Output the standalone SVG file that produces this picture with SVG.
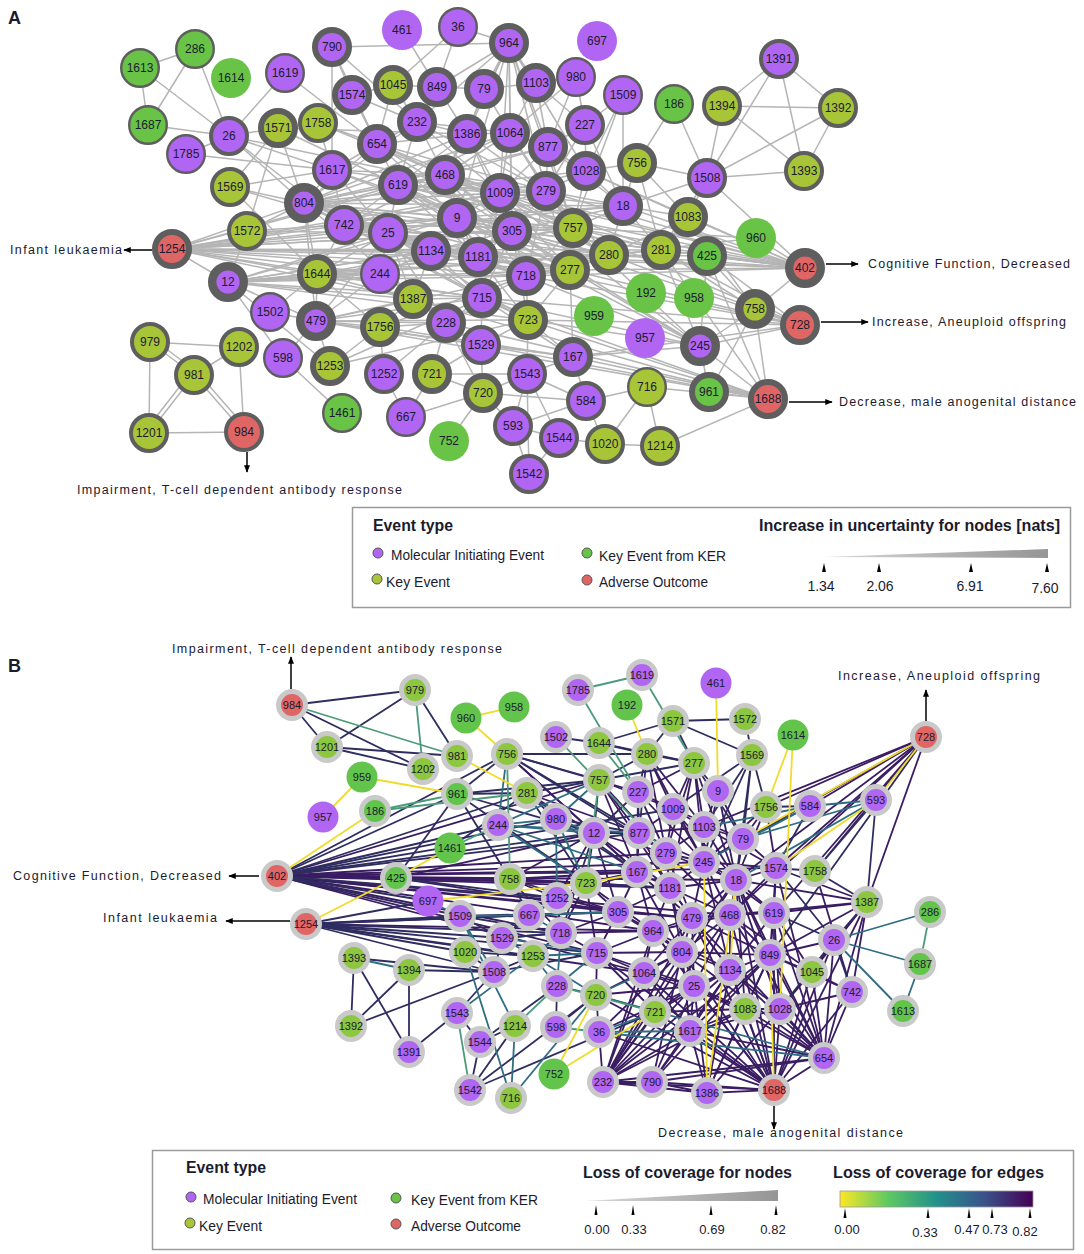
<svg xmlns="http://www.w3.org/2000/svg" width="1084" height="1254" viewBox="0 0 1084 1254">
<style>
text{font-family:"Liberation Sans",Arial,sans-serif;fill:#1b1b2e}
.nodes text{text-anchor:middle;font-size:12px}
#B text{font-size:11px}
#A circle{stroke:#5e5e5e}
#A .s0 circle{stroke:none}
.s2 circle{stroke-width:2.4}
.s4 circle{stroke-width:4}
.s6 circle{stroke-width:6}
.s8 circle{stroke-width:8.4}
.m circle{fill:#b066f2}
.k circle{fill:#a8c538}
.g circle{fill:#68c346}
.r circle{fill:#e06666}
#B .k circle{fill:#8dc63f}
#B .g circle{fill:#62c44b}
#B circle{stroke:#c9c9c9;stroke-width:5}
#B .s0 circle{stroke:none}
.ea path{stroke:#b5b5b5;stroke-width:1.5;fill:none}
.eb path{stroke-width:1.8;fill:none}
.ey path{stroke:#f0dc2a}
.eg path{stroke:#4b9b7b}
.et path{stroke:#2e6d82}
.en path{stroke:#2f2d60}
.ep path{stroke:#3a1c62}
.arr{stroke:#000;stroke-width:1.5;fill:none;marker-end:url(#ah)}
.ann{font-size:12.5px}
.lt{font-weight:bold;font-size:16px}
.li{font-size:14px}
.dot{stroke:#555;stroke-width:1}
.tick{fill:#000}
</style>
<defs>
<marker id="ah" viewBox="0 0 10 10" refX="9" refY="5" markerWidth="5" markerHeight="5" orient="auto"><path d="M0 1L10 5L0 9z" fill="#000"/></marker>
<linearGradient id="wedge" x1="0" x2="1" y1="0" y2="0"><stop offset="0" stop-color="#d8d8d8"/><stop offset="1" stop-color="#959595"/></linearGradient>
<linearGradient id="vir" x1="0" x2="1" y1="0" y2="0"><stop offset="0" stop-color="#fde725"/><stop offset="0.25" stop-color="#5ec962"/><stop offset="0.5" stop-color="#21918c"/><stop offset="0.75" stop-color="#3b528b"/><stop offset="1" stop-color="#440154"/></linearGradient>
</defs>
<rect width="1084" height="1254" fill="#fff"/>
<text x="8" y="24" style="font-weight:bold;font-size:18px">A</text>
<text x="8" y="672" style="font-weight:bold;font-size:18px">B</text>

<g id="edgesA" class="ea">
<path d="M140 68L195 49"/><path d="M140 68L148 125"/><path d="M195 49L148 125"/><path d="M195 49L229 136"/><path d="M140 68L229 136"/><path d="M148 125L229 136"/><path d="M186 154L229 136"/><path d="M186 154L332 170"/><path d="M285 73L229 136"/><path d="M285 73L377 144"/><path d="M229 136L278 128"/><path d="M229 136L332 170"/><path d="M229 136L304 203"/><path d="M229 136L344 225"/><path d="M229 136L500 193"/><path d="M332 47L352 95"/><path d="M332 47L377 144"/><path d="M332 47L332 170"/><path d="M332 47L417 122"/><path d="M332 47L509 43"/><path d="M278 128L230 187"/><path d="M278 128L247 231"/><path d="M278 128L318 123"/><path d="M278 128L304 203"/><path d="M278 128L398 185"/><path d="M278 128L467 134"/><path d="M318 123L352 95"/><path d="M318 123L377 144"/><path d="M318 123L445 175"/><path d="M318 123L332 170"/><path d="M230 187L304 203"/><path d="M230 187L317 274"/><path d="M230 187L388 233"/><path d="M230 187L332 170"/><path d="M247 231L304 203"/><path d="M247 231L344 225"/><path d="M247 231L228 282"/><path d="M247 231L388 233"/>
<path d="M172 249L304 203"/><path d="M172 249L228 282"/><path d="M172 249L344 225"/><path d="M172 249L388 233"/><path d="M172 249L431 251"/><path d="M172 249L478 257"/><path d="M172 249L457 218"/><path d="M172 249L512 231"/><path d="M172 249L526 276"/><path d="M172 249L317 274"/><path d="M172 249L398 185"/><path d="M172 249L445 175"/><path d="M172 249L500 193"/><path d="M172 249L546 191"/><path d="M172 249L570 270"/><path d="M172 249L573 228"/><path d="M172 249L413 299"/><path d="M172 249L380 274"/><path d="M172 249L482 298"/><path d="M172 249L609 255"/><path d="M172 249L623 206"/><path d="M172 249L661 250"/>
<path d="M228 282L317 274"/><path d="M228 282L316 321"/><path d="M228 282L283 358"/><path d="M228 282L330 366"/><path d="M228 282L431 251"/><path d="M228 282L388 233"/><path d="M228 282L457 218"/><path d="M228 282L478 257"/><path d="M228 282L482 298"/><path d="M228 282L413 299"/><path d="M228 282L526 276"/><path d="M228 282L609 255"/><path d="M228 282L528 320"/><path d="M228 282L380 274"/><path d="M270 312L316 321"/><path d="M270 312L317 274"/><path d="M283 358L342 413"/><path d="M283 358L316 321"/>
<path d="M150 342L194 375"/><path d="M153 339L197 372"/><path d="M150 342L239 347"/><path d="M150 342L149 433"/><path d="M194 375L239 347"/><path d="M194 375L149 433"/><path d="M191 372L146 430"/><path d="M194 375L244 432"/><path d="M197 372L247 429"/><path d="M149 433L244 432"/><path d="M239 347L244 432"/>
<path d="M402 30L437 87"/><path d="M458 27L437 87"/><path d="M458 27L509 43"/><path d="M458 27L393 85"/><path d="M509 43L437 87"/><path d="M509 43L484 89"/><path d="M509 43L536 83"/><path d="M509 43L510 133"/><path d="M509 43L467 134"/><path d="M509 43L548 147"/><path d="M509 43L500 193"/><path d="M509 43L546 191"/><path d="M509 43L417 122"/><path d="M509 43L445 175"/><path d="M509 43L512 231"/><path d="M509 43L586 171"/><path d="M509 43L457 218"/><path d="M509 43L573 228"/>
<path d="M576 77L536 83"/><path d="M576 77L585 125"/><path d="M576 77L548 147"/><path d="M576 77L510 133"/><path d="M623 95L585 125"/><path d="M623 95L573 228"/><path d="M623 95L623 206"/><path d="M623 95L586 171"/><path d="M674 104L637 163"/><path d="M674 104L707 178"/>
<path d="M779 59L722 106"/><path d="M779 59L838 108"/><path d="M779 59L804 171"/><path d="M779 59L707 178"/><path d="M722 106L838 108"/><path d="M722 106L804 171"/><path d="M838 108L804 171"/><path d="M838 108L707 178"/><path d="M804 171L707 178"/><path d="M722 106L707 178"/><path d="M707 178L805 268"/><path d="M707 178L637 163"/><path d="M707 178L623 206"/><path d="M707 178L688 217"/><path d="M707 178L661 250"/><path d="M756 238L805 268"/><path d="M756 238L573 228"/><path d="M756 238L609 255"/>
<path d="M805 268L707 256"/><path d="M805 268L755 309"/><path d="M805 268L661 250"/><path d="M805 268L609 255"/><path d="M805 268L688 217"/><path d="M805 268L623 206"/><path d="M805 268L573 228"/><path d="M805 268L570 270"/><path d="M805 268L512 231"/><path d="M805 268L500 193"/><path d="M805 268L546 191"/><path d="M805 268L586 171"/><path d="M805 268L526 276"/><path d="M805 268L478 257"/><path d="M805 268L431 251"/><path d="M805 268L457 218"/><path d="M805 268L445 175"/><path d="M805 268L398 185"/>
<path d="M800 325L755 309"/><path d="M800 325L700 346"/><path d="M800 325L707 256"/><path d="M800 325L661 250"/><path d="M800 325L609 255"/><path d="M800 325L570 270"/><path d="M800 325L573 228"/><path d="M800 325L573 357"/><path d="M800 325L528 320"/><path d="M800 325L526 276"/><path d="M800 325L482 298"/><path d="M800 325L478 257"/><path d="M800 325L512 231"/>
<path d="M768 399L709 392"/><path d="M768 399L700 346"/><path d="M768 399L755 309"/><path d="M768 399L707 256"/><path d="M768 399L661 250"/><path d="M768 399L573 357"/><path d="M768 399L528 320"/><path d="M768 399L482 298"/><path d="M768 399L446 323"/><path d="M768 399L481 345"/><path d="M768 399L316 321"/><path d="M768 399L413 299"/><path d="M768 399L660 446"/><path d="M768 399L647 387"/>
<path d="M755 309L707 256"/><path d="M755 309L700 346"/><path d="M755 309L661 250"/><path d="M755 309L709 392"/><path d="M755 309L688 217"/><path d="M700 346L709 392"/><path d="M700 346L707 256"/><path d="M700 346L661 250"/><path d="M700 346L573 357"/><path d="M700 346L528 320"/><path d="M700 346L482 298"/><path d="M700 346L526 276"/><path d="M700 346L570 270"/><path d="M700 346L573 228"/><path d="M700 346L500 193"/><path d="M700 346L512 231"/><path d="M700 346L457 218"/>
<path d="M647 387L605 444"/><path d="M647 387L660 446"/><path d="M647 387L586 401"/><path d="M605 444L660 446"/><path d="M605 444L586 401"/><path d="M605 444L559 438"/><path d="M559 438L529 474"/><path d="M559 438L513 426"/><path d="M527 374L529 474"/><path d="M513 426L529 474"/><path d="M527 374L513 426"/><path d="M527 374L559 438"/><path d="M527 374L586 401"/><path d="M527 374L483 393"/><path d="M527 374L432 374"/><path d="M527 374L573 357"/><path d="M527 374L528 320"/><path d="M483 393L449 441"/><path d="M483 393L513 426"/><path d="M483 393L432 374"/><path d="M483 393L481 345"/><path d="M483 393L446 323"/><path d="M483 393L586 401"/><path d="M406 417L432 374"/><path d="M406 417L384 374"/><path d="M406 417L483 393"/><path d="M586 401L573 357"/><path d="M586 401L513 426"/>
<path d="M304 203L344 225"/><path d="M304 203L398 185"/><path d="M304 203L377 144"/><path d="M304 203L332 170"/><path d="M304 203L388 233"/><path d="M304 203L317 274"/><path d="M304 203L457 218"/><path d="M304 203L445 175"/><path d="M304 203L500 193"/><path d="M304 203L512 231"/><path d="M304 203L546 191"/><path d="M304 203L573 228"/><path d="M304 203L623 206"/><path d="M304 203L431 251"/><path d="M304 203L478 257"/><path d="M304 203L526 276"/><path d="M304 203L316 321"/><path d="M304 203L417 122"/><path d="M304 203L467 134"/><path d="M304 203L510 133"/><path d="M304 203L548 147"/><path d="M304 203L586 171"/><path d="M304 203L570 270"/><path d="M304 203L609 255"/><path d="M304 203L482 298"/><path d="M304 203L446 323"/><path d="M304 203L528 320"/>
<path d="M344 225L388 233"/><path d="M344 225L398 185"/><path d="M344 225L317 274"/><path d="M344 225L431 251"/><path d="M344 225L457 218"/><path d="M344 225L445 175"/><path d="M344 225L500 193"/><path d="M344 225L623 206"/><path d="M344 225L573 228"/><path d="M344 225L609 255"/><path d="M344 225L526 276"/><path d="M344 225L478 257"/>
<path d="M388 233L398 185"/><path d="M388 233L457 218"/><path d="M388 233L431 251"/><path d="M388 233L380 274"/><path d="M388 233L317 274"/><path d="M388 233L413 299"/><path d="M388 233L316 321"/><path d="M388 233L478 257"/><path d="M388 233L512 231"/><path d="M388 233L526 276"/><path d="M388 233L570 270"/><path d="M388 233L482 298"/><path d="M388 233L446 323"/><path d="M388 233L528 320"/>
<path d="M398 185L445 175"/><path d="M398 185L377 144"/><path d="M398 185L417 122"/><path d="M398 185L457 218"/><path d="M398 185L500 193"/><path d="M398 185L467 134"/><path d="M398 185L510 133"/><path d="M398 185L546 191"/><path d="M398 185L512 231"/><path d="M398 185L573 228"/><path d="M398 185L526 276"/><path d="M398 185L570 270"/><path d="M398 185L478 257"/>
<path d="M445 175L467 134"/><path d="M445 175L457 218"/><path d="M445 175L500 193"/><path d="M445 175L510 133"/><path d="M445 175L546 191"/><path d="M445 175L548 147"/><path d="M445 175L512 231"/><path d="M445 175L417 122"/><path d="M445 175L573 228"/><path d="M445 175L526 276"/><path d="M445 175L570 270"/><path d="M445 175L609 255"/><path d="M445 175L478 257"/>
<path d="M457 218L500 193"/><path d="M457 218L512 231"/><path d="M457 218L431 251"/><path d="M457 218L478 257"/><path d="M457 218L546 191"/><path d="M457 218L526 276"/><path d="M457 218L573 228"/><path d="M457 218L570 270"/><path d="M457 218L609 255"/><path d="M457 218L482 298"/>
<path d="M500 193L512 231"/><path d="M500 193L546 191"/><path d="M500 193L510 133"/><path d="M500 193L548 147"/><path d="M500 193L467 134"/><path d="M500 193L573 228"/><path d="M500 193L623 206"/><path d="M500 193L586 171"/><path d="M500 193L478 257"/><path d="M500 193L526 276"/><path d="M500 193L570 270"/><path d="M500 193L609 255"/><path d="M500 193L661 250"/><path d="M500 193L482 298"/>
<path d="M512 231L546 191"/><path d="M512 231L573 228"/><path d="M512 231L526 276"/><path d="M512 231L478 257"/><path d="M512 231L431 251"/><path d="M512 231L570 270"/><path d="M512 231L623 206"/><path d="M512 231L609 255"/><path d="M512 231L661 250"/><path d="M512 231L482 298"/><path d="M512 231L528 320"/>
<path d="M546 191L548 147"/><path d="M546 191L586 171"/><path d="M546 191L573 228"/><path d="M546 191L623 206"/><path d="M546 191L585 125"/><path d="M546 191L510 133"/><path d="M546 191L570 270"/><path d="M546 191L609 255"/><path d="M546 191L526 276"/>
<path d="M573 228L623 206"/><path d="M573 228L586 171"/><path d="M573 228L570 270"/><path d="M573 228L609 255"/><path d="M573 228L661 250"/><path d="M573 228L526 276"/>
<path d="M623 206L586 171"/><path d="M623 206L688 217"/><path d="M623 206L609 255"/><path d="M623 206L661 250"/><path d="M623 206L637 163"/><path d="M623 206L585 125"/>
<path d="M586 171L548 147"/><path d="M586 171L585 125"/><path d="M586 171L637 163"/><path d="M586 171L688 217"/><path d="M548 147L585 125"/><path d="M548 147L510 133"/><path d="M548 147L536 83"/><path d="M548 147L573 228"/><path d="M548 147L623 206"/>
<path d="M510 133L467 134"/><path d="M510 133L536 83"/><path d="M510 133L484 89"/><path d="M510 133L417 122"/><path d="M510 133L512 231"/><path d="M510 133L573 228"/><path d="M467 134L417 122"/><path d="M467 134L437 87"/><path d="M467 134L484 89"/><path d="M467 134L377 144"/><path d="M467 134L546 191"/><path d="M467 134L512 231"/>
<path d="M417 122L377 144"/><path d="M417 122L437 87"/><path d="M417 122L393 85"/><path d="M417 122L352 95"/><path d="M417 122L500 193"/><path d="M417 122L546 191"/><path d="M377 144L352 95"/><path d="M377 144L332 170"/><path d="M377 144L393 85"/><path d="M377 144L445 175"/><path d="M377 144L457 218"/><path d="M377 144L546 191"/><path d="M332 170L344 225"/><path d="M332 170L388 233"/><path d="M332 170L500 193"/><path d="M332 170L445 175"/><path d="M332 170L457 218"/><path d="M332 170L512 231"/><path d="M377 144L512 231"/><path d="M377 144L500 193"/>
<path d="M431 251L478 257"/><path d="M431 251L380 274"/><path d="M431 251L413 299"/><path d="M431 251L482 298"/><path d="M431 251L526 276"/><path d="M478 257L526 276"/><path d="M478 257L482 298"/><path d="M478 257L570 270"/><path d="M478 257L528 320"/><path d="M526 276L570 270"/><path d="M526 276L482 298"/><path d="M526 276L528 320"/><path d="M570 270L609 255"/><path d="M570 270L528 320"/><path d="M570 270L573 357"/><path d="M609 255L661 250"/><path d="M609 255L707 256"/><path d="M609 255L688 217"/>
<path d="M317 274L316 321"/><path d="M317 274L380 274"/><path d="M317 274L413 299"/><path d="M317 274L380 327"/><path d="M317 274L609 255"/><path d="M317 274L573 228"/><path d="M317 274L526 276"/><path d="M317 274L482 298"/><path d="M317 274L478 257"/><path d="M316 321L380 327"/><path d="M316 321L413 299"/><path d="M316 321L446 323"/><path d="M316 321L330 366"/><path d="M316 321L481 345"/><path d="M316 321L380 274"/><path d="M316 321L528 320"/><path d="M316 321L573 357"/><path d="M316 321L482 298"/><path d="M316 321L526 276"/>
<path d="M413 299L482 298"/><path d="M413 299L446 323"/><path d="M413 299L380 327"/><path d="M482 298L446 323"/><path d="M482 298L528 320"/><path d="M482 298L481 345"/><path d="M482 298L573 357"/><path d="M446 323L481 345"/><path d="M446 323L432 374"/><path d="M446 323L384 374"/><path d="M446 323L380 327"/><path d="M528 320L573 357"/><path d="M528 320L481 345"/><path d="M380 327L330 366"/><path d="M380 327L384 374"/><path d="M380 327L573 357"/><path d="M380 327L526 276"/><path d="M330 366L528 320"/><path d="M330 366L482 298"/><path d="M481 345L432 374"/><path d="M481 345L573 357"/>
<path d="M228 282L570 270"/><path d="M228 282L573 228"/>
<path d="M437 87L484 89"/><path d="M484 89L536 83"/><path d="M536 83L585 125"/><path d="M393 85L437 87"/><path d="M352 95L393 85"/><path d="M637 163L661 250"/><path d="M637 163L688 217"/><path d="M688 217L661 250"/><path d="M661 250L707 256"/>
</g>

<g id="A" class="nodes">
<g id="a1613" class="g s2"><circle cx="140" cy="68" r="18.8"/><text x="140" y="72">1613</text></g>
<g id="a286" class="g s2"><circle cx="195" cy="49" r="18.8"/><text x="195" y="53">286</text></g>
<g id="a1614" class="g s0"><circle cx="231" cy="78" r="20"/><text x="231" y="82">1614</text></g>
<g id="a1619" class="m s2"><circle cx="285" cy="73" r="18.8"/><text x="285" y="77">1619</text></g>
<g id="a790" class="m s6"><circle cx="332" cy="47" r="17"/><text x="332" y="51">790</text></g>
<g id="a1687" class="g s2"><circle cx="148" cy="125" r="18.8"/><text x="148" y="129">1687</text></g>
<g id="a1785" class="m s2"><circle cx="186" cy="154" r="18.8"/><text x="186" y="158">1785</text></g>
<g id="a26" class="m s4"><circle cx="229" cy="136" r="18"/><text x="229" y="140">26</text></g>
<g id="a1571" class="k s6"><circle cx="278" cy="128" r="17"/><text x="278" y="132">1571</text></g>
<g id="a1758" class="k s4"><circle cx="318" cy="123" r="18"/><text x="318" y="127">1758</text></g>
<g id="a1574" class="m s6"><circle cx="352" cy="95" r="17"/><text x="352" y="99">1574</text></g>
<g id="a1617" class="m s4"><circle cx="332" cy="170" r="18"/><text x="332" y="174">1617</text></g>
<g id="a1569" class="k s4"><circle cx="230" cy="187" r="18"/><text x="230" y="191">1569</text></g>
<g id="a804" class="m s8"><circle cx="304" cy="203" r="15.8"/><text x="304" y="207">804</text></g>
<g id="a742" class="m s4"><circle cx="344" cy="225" r="18"/><text x="344" y="229">742</text></g>
<g id="a1572" class="k s4"><circle cx="247" cy="231" r="18"/><text x="247" y="235">1572</text></g>
<g id="a1254" class="r s6"><circle cx="172" cy="249" r="17"/><text x="172" y="253">1254</text></g>
<g id="a461" class="m s0"><circle cx="402" cy="30" r="20"/><text x="402" y="34">461</text></g>
<g id="a36" class="m s2"><circle cx="458" cy="27" r="18.8"/><text x="458" y="31">36</text></g>
<g id="a964" class="m s6"><circle cx="509" cy="43" r="17"/><text x="509" y="47">964</text></g>
<g id="a697" class="m s0"><circle cx="597" cy="41" r="20"/><text x="597" y="45">697</text></g>
<g id="a1045" class="k s6"><circle cx="393" cy="85" r="17"/><text x="393" y="89">1045</text></g>
<g id="a849" class="m s6"><circle cx="437" cy="87" r="17"/><text x="437" y="91">849</text></g>
<g id="a79" class="m s6"><circle cx="484" cy="89" r="17"/><text x="484" y="93">79</text></g>
<g id="a1103" class="m s6"><circle cx="536" cy="83" r="17"/><text x="536" y="87">1103</text></g>
<g id="a980" class="m s2"><circle cx="576" cy="77" r="18.8"/><text x="576" y="81">980</text></g>
<g id="a1509" class="m s2"><circle cx="623" cy="95" r="18.8"/><text x="623" y="99">1509</text></g>
<g id="a186" class="g s2"><circle cx="674" cy="104" r="18.8"/><text x="674" y="108">186</text></g>
<g id="a1394" class="k s4"><circle cx="722" cy="106" r="18"/><text x="722" y="110">1394</text></g>
<g id="a232" class="m s6"><circle cx="417" cy="122" r="17"/><text x="417" y="126">232</text></g>
<g id="a654" class="m s6"><circle cx="377" cy="144" r="17"/><text x="377" y="148">654</text></g>
<g id="a1386" class="m s6"><circle cx="467" cy="134" r="17"/><text x="467" y="138">1386</text></g>
<g id="a1064" class="m s6"><circle cx="510" cy="133" r="17"/><text x="510" y="137">1064</text></g>
<g id="a877" class="m s6"><circle cx="548" cy="147" r="17"/><text x="548" y="151">877</text></g>
<g id="a227" class="m s4"><circle cx="585" cy="125" r="18"/><text x="585" y="129">227</text></g>
<g id="a756" class="k s6"><circle cx="637" cy="163" r="17"/><text x="637" y="167">756</text></g>
<g id="a1508" class="m s4"><circle cx="707" cy="178" r="18"/><text x="707" y="182">1508</text></g>
<g id="a619" class="m s6"><circle cx="398" cy="185" r="17"/><text x="398" y="189">619</text></g>
<g id="a468" class="m s6"><circle cx="445" cy="175" r="17"/><text x="445" y="179">468</text></g>
<g id="a1009" class="m s6"><circle cx="500" cy="193" r="17"/><text x="500" y="197">1009</text></g>
<g id="a279" class="m s6"><circle cx="546" cy="191" r="17"/><text x="546" y="195">279</text></g>
<g id="a1028" class="m s6"><circle cx="586" cy="171" r="17"/><text x="586" y="175">1028</text></g>
<g id="a18" class="m s6"><circle cx="623" cy="206" r="17"/><text x="623" y="210">18</text></g>
<g id="a1083" class="k s6"><circle cx="688" cy="217" r="17"/><text x="688" y="221">1083</text></g>
<g id="a9" class="m s6"><circle cx="457" cy="218" r="17"/><text x="457" y="222">9</text></g>
<g id="a305" class="m s6"><circle cx="512" cy="231" r="17"/><text x="512" y="235">305</text></g>
<g id="a757" class="k s6"><circle cx="573" cy="228" r="17"/><text x="573" y="232">757</text></g>
<g id="a25" class="m s4"><circle cx="388" cy="233" r="18"/><text x="388" y="237">25</text></g>
<g id="a281" class="k s6"><circle cx="661" cy="250" r="17"/><text x="661" y="254">281</text></g>
<g id="a1391" class="m s4"><circle cx="779" cy="59" r="18"/><text x="779" y="63">1391</text></g>
<g id="a1392" class="k s4"><circle cx="838" cy="108" r="18"/><text x="838" y="112">1392</text></g>
<g id="a1393" class="k s4"><circle cx="804" cy="171" r="18"/><text x="804" y="175">1393</text></g>
<g id="a960" class="g s0"><circle cx="756" cy="238" r="20"/><text x="756" y="242">960</text></g>
<g id="a12" class="m s8"><circle cx="228" cy="282" r="15.8"/><text x="228" y="286">12</text></g>
<g id="a1644" class="k s6"><circle cx="317" cy="274" r="17"/><text x="317" y="278">1644</text></g>
<g id="a1502" class="m s2"><circle cx="270" cy="312" r="18.8"/><text x="270" y="316">1502</text></g>
<g id="a479" class="m s8"><circle cx="316" cy="321" r="15.8"/><text x="316" y="325">479</text></g>
<g id="a979" class="k s4"><circle cx="150" cy="342" r="18"/><text x="150" y="346">979</text></g>
<g id="a1202" class="k s4"><circle cx="239" cy="347" r="18"/><text x="239" y="351">1202</text></g>
<g id="a598" class="m s2"><circle cx="283" cy="358" r="18.8"/><text x="283" y="362">598</text></g>
<g id="a1253" class="k s6"><circle cx="330" cy="366" r="17"/><text x="330" y="370">1253</text></g>
<g id="a981" class="k s4"><circle cx="194" cy="375" r="18"/><text x="194" y="379">981</text></g>
<g id="a1461" class="g s2"><circle cx="342" cy="413" r="18.8"/><text x="342" y="417">1461</text></g>
<g id="a1201" class="k s4"><circle cx="149" cy="433" r="18"/><text x="149" y="437">1201</text></g>
<g id="a984" class="r s4"><circle cx="244" cy="432" r="18"/><text x="244" y="436">984</text></g>
<g id="a1134" class="m s6"><circle cx="431" cy="251" r="17"/><text x="431" y="255">1134</text></g>
<g id="a1181" class="m s6"><circle cx="478" cy="257" r="17"/><text x="478" y="261">1181</text></g>
<g id="a244" class="m s2"><circle cx="380" cy="274" r="18.8"/><text x="380" y="278">244</text></g>
<g id="a718" class="m s6"><circle cx="526" cy="276" r="17"/><text x="526" y="280">718</text></g>
<g id="a277" class="k s6"><circle cx="570" cy="270" r="17"/><text x="570" y="274">277</text></g>
<g id="a280" class="k s6"><circle cx="609" cy="255" r="17"/><text x="609" y="259">280</text></g>
<g id="a425" class="g s6"><circle cx="707" cy="256" r="17"/><text x="707" y="260">425</text></g>
<g id="a1387" class="k s6"><circle cx="413" cy="299" r="17"/><text x="413" y="303">1387</text></g>
<g id="a715" class="m s6"><circle cx="482" cy="298" r="17"/><text x="482" y="302">715</text></g>
<g id="a192" class="g s0"><circle cx="646" cy="293" r="20"/><text x="646" y="297">192</text></g>
<g id="a958" class="g s0"><circle cx="694" cy="298" r="20"/><text x="694" y="302">958</text></g>
<g id="a959" class="g s0"><circle cx="594" cy="316" r="20"/><text x="594" y="320">959</text></g>
<g id="a1756" class="k s6"><circle cx="380" cy="327" r="17"/><text x="380" y="331">1756</text></g>
<g id="a228" class="m s6"><circle cx="446" cy="323" r="17"/><text x="446" y="327">228</text></g>
<g id="a723" class="k s6"><circle cx="528" cy="320" r="17"/><text x="528" y="324">723</text></g>
<g id="a1529" class="m s4"><circle cx="481" cy="345" r="18"/><text x="481" y="349">1529</text></g>
<g id="a957" class="m s0"><circle cx="645" cy="338" r="20"/><text x="645" y="342">957</text></g>
<g id="a245" class="m s8"><circle cx="700" cy="346" r="15.8"/><text x="700" y="350">245</text></g>
<g id="a167" class="m s6"><circle cx="573" cy="357" r="17"/><text x="573" y="361">167</text></g>
<g id="a1252" class="m s4"><circle cx="384" cy="374" r="18"/><text x="384" y="378">1252</text></g>
<g id="a721" class="k s6"><circle cx="432" cy="374" r="17"/><text x="432" y="378">721</text></g>
<g id="a1543" class="m s4"><circle cx="527" cy="374" r="18"/><text x="527" y="378">1543</text></g>
<g id="a720" class="k s6"><circle cx="483" cy="393" r="17"/><text x="483" y="397">720</text></g>
<g id="a584" class="m s4"><circle cx="586" cy="401" r="18"/><text x="586" y="405">584</text></g>
<g id="a716" class="k s2"><circle cx="647" cy="387" r="18.8"/><text x="647" y="391">716</text></g>
<g id="a961" class="g s6"><circle cx="709" cy="392" r="17"/><text x="709" y="396">961</text></g>
<g id="a667" class="m s2"><circle cx="406" cy="417" r="18.8"/><text x="406" y="421">667</text></g>
<g id="a593" class="m s4"><circle cx="513" cy="426" r="18"/><text x="513" y="430">593</text></g>
<g id="a1544" class="m s4"><circle cx="559" cy="438" r="18"/><text x="559" y="442">1544</text></g>
<g id="a1020" class="k s4"><circle cx="605" cy="444" r="18"/><text x="605" y="448">1020</text></g>
<g id="a1214" class="k s4"><circle cx="660" cy="446" r="18"/><text x="660" y="450">1214</text></g>
<g id="a752" class="g s0"><circle cx="449" cy="441" r="20"/><text x="449" y="445">752</text></g>
<g id="a1542" class="m s4"><circle cx="529" cy="474" r="18"/><text x="529" y="478">1542</text></g>
<g id="a402" class="r s8"><circle cx="805" cy="268" r="15.8"/><text x="805" y="272">402</text></g>
<g id="a758" class="k s8"><circle cx="755" cy="309" r="15.8"/><text x="755" y="313">758</text></g>
<g id="a728" class="r s6"><circle cx="800" cy="325" r="17"/><text x="800" y="329">728</text></g>
<g id="a1688" class="r s6"><circle cx="768" cy="399" r="17"/><text x="768" y="403">1688</text></g>
</g>

<g id="annotA">
<path class="arr" d="M152 250L124 250"/>
<path class="arr" d="M826 264L858 264"/>
<path class="arr" d="M821 322L868 322"/>
<path class="arr" d="M789 402L832 402"/>
<path class="arr" d="M247 452L247 472"/>
<text class="ann" x="10" y="254" textLength="112" lengthAdjust="spacing">Infant leukaemia</text>
<text class="ann" x="868" y="268" textLength="202" lengthAdjust="spacing">Cognitive Function, Decreased</text>
<text class="ann" x="872" y="326" textLength="194" lengthAdjust="spacing">Increase, Aneuploid offspring</text>
<text class="ann" x="839" y="406" textLength="237" lengthAdjust="spacing">Decrease, male anogenital distance</text>
<text class="ann" x="77" y="494" textLength="325" lengthAdjust="spacing">Impairment, T-cell dependent antibody response</text>
</g>

<g id="legendA">
<rect x="352.5" y="507.5" width="718" height="100" fill="#fff" stroke="#9a9a9a" stroke-width="1.5"/>
<text class="lt" x="373" y="531" textLength="80" lengthAdjust="spacingAndGlyphs">Event type</text>
<circle class="dot" cx="378" cy="553" r="5" fill="#b066f2"/>
<text class="li" x="391" y="560" textLength="153" lengthAdjust="spacingAndGlyphs">Molecular Initiating Event</text>
<circle class="dot" cx="377" cy="579" r="5" fill="#a8c538"/>
<text class="li" x="386" y="587" textLength="64" lengthAdjust="spacingAndGlyphs">Key Event</text>
<circle class="dot" cx="587" cy="553" r="5" fill="#68c346"/>
<text class="li" x="599" y="561" textLength="127" lengthAdjust="spacingAndGlyphs">Key Event from KER</text>
<circle class="dot" cx="587" cy="580" r="5" fill="#e06666"/>
<text class="li" x="599" y="587" textLength="109" lengthAdjust="spacingAndGlyphs">Adverse Outcome</text>
<text class="lt" x="759" y="531" textLength="301" lengthAdjust="spacingAndGlyphs">Increase in uncertainty for nodes [nats]</text>
<polygon points="825,557 1048,549 1048,558" fill="url(#wedge)"/>
<polygon class="tick" points="822,572 824,563 826,572"/>
<polygon class="tick" points="877,572 879,563 881,572"/>
<polygon class="tick" points="969,572 971,563 973,572"/>
<polygon class="tick" points="1045,572 1047,563 1049,572"/>
<g class="li" text-anchor="middle">
<text x="821" y="591">1.34</text><text x="880" y="591">2.06</text><text x="970" y="591">6.91</text><text x="1045" y="593">7.60</text>
</g>
</g>

<g id="edgesB" class="eb">
<g class="ep">
<path d="M277 876L396 878"/><path d="M277 876L510 879"/><path d="M277 876L599 780"/><path d="M277 876L586 883"/><path d="M277 876L637 872"/><path d="M277 876L670 888"/><path d="M277 876L736 880"/><path d="M277 876L704 862"/><path d="M277 876L666 853"/><path d="M277 876L618 912"/><path d="M277 876L692 918"/><path d="M277 876L776 868"/><path d="M277 876L561 933"/><path d="M277 876L597 953"/><path d="M277 876L653 931"/><path d="M277 876L644 973"/><path d="M277 876L730 915"/>
<path d="M306 924L618 912"/><path d="M306 924L653 931"/><path d="M306 924L644 973"/>
<path d="M926 737L810 806"/><path d="M926 737L766 807"/><path d="M926 737L776 868"/><path d="M926 737L704 862"/><path d="M926 737L736 880"/><path d="M926 737L815 871"/><path d="M926 737L867 902"/><path d="M926 737L704 827"/><path d="M926 737L774 913"/><path d="M926 737L730 915"/>
<path d="M774 1090L603 1082"/><path d="M774 1090L652 1082"/><path d="M774 1090L707 1093"/><path d="M774 1090L824 1058"/><path d="M774 1090L599 1032"/><path d="M774 1090L690 1031"/><path d="M774 1090L780 1009"/><path d="M774 1090L745 1009"/><path d="M774 1090L694 986"/><path d="M774 1090L730 970"/><path d="M774 1090L596 995"/><path d="M774 1090L655 1012"/><path d="M774 1090L644 973"/><path d="M774 1090L682 952"/><path d="M774 1090L730 915"/><path d="M774 1090L774 913"/><path d="M774 1090L812 972"/><path d="M774 1090L852 992"/><path d="M774 1090L867 902"/><path d="M774 1090L834 940"/><path d="M774 1090L653 931"/><path d="M774 1090L597 953"/><path d="M774 1090L692 918"/><path d="M774 1090L736 880"/>
<path d="M824 1058L867 902"/><path d="M824 1058L834 940"/><path d="M824 1058L812 972"/><path d="M824 1058L770 955"/><path d="M824 1058L730 970"/><path d="M824 1058L730 915"/><path d="M824 1058L774 913"/><path d="M824 1058L780 1009"/><path d="M824 1058L603 1082"/><path d="M824 1058L852 992"/><path d="M824 1058L745 1009"/><path d="M824 1058L694 986"/><path d="M824 1058L690 1031"/><path d="M824 1058L682 952"/><path d="M824 1058L652 1082"/><path d="M824 1058L776 868"/><path d="M824 1058L736 880"/><path d="M824 1058L692 918"/>
<path d="M603 1082L690 1031"/><path d="M603 1082L655 1012"/><path d="M603 1082L694 986"/><path d="M603 1082L682 952"/><path d="M603 1082L644 973"/><path d="M603 1082L652 1082"/><path d="M603 1082L730 915"/><path d="M603 1082L707 1093"/><path d="M603 1082L730 970"/><path d="M603 1082L599 1032"/><path d="M603 1082L653 931"/><path d="M603 1082L770 955"/><path d="M603 1082L745 1009"/><path d="M603 1082L692 918"/><path d="M603 1082L736 880"/>
<path d="M652 1082L707 1093"/><path d="M652 1082L694 986"/><path d="M652 1082L690 1031"/><path d="M652 1082L682 952"/><path d="M652 1082L730 970"/><path d="M652 1082L770 955"/><path d="M707 1093L690 1031"/><path d="M707 1093L694 986"/><path d="M707 1093L745 1009"/><path d="M707 1093L780 1009"/><path d="M707 1093L770 955"/><path d="M707 1093L730 970"/>
<path d="M867 902L774 913"/><path d="M867 902L770 955"/><path d="M867 902L812 972"/><path d="M867 902L852 992"/><path d="M867 902L776 868"/><path d="M867 902L736 880"/><path d="M867 902L730 915"/><path d="M867 902L780 1009"/><path d="M834 940L770 955"/><path d="M834 940L812 972"/><path d="M852 992L812 972"/><path d="M852 992L770 955"/><path d="M852 992L780 1009"/><path d="M852 992L815 871"/>
<path d="M599 780L639 833"/><path d="M599 780L637 872"/><path d="M599 780L670 888"/><path d="M599 780L666 853"/><path d="M599 780L673 809"/><path d="M638 792L673 809"/><path d="M638 792L639 833"/><path d="M638 792L666 853"/><path d="M638 792L694 763"/><path d="M638 792L704 862"/><path d="M647 754L673 809"/><path d="M647 754L666 853"/><path d="M647 754L704 827"/><path d="M647 754L704 862"/><path d="M694 763L673 809"/><path d="M694 763L704 827"/><path d="M694 763L666 853"/><path d="M694 763L704 862"/><path d="M694 763L736 880"/><path d="M694 763L670 888"/>
<path d="M718 791L704 827"/><path d="M718 791L743 839"/><path d="M718 791L736 880"/><path d="M718 791L704 862"/><path d="M594 833L639 833"/><path d="M594 833L586 883"/><path d="M594 833L637 872"/><path d="M594 833L666 853"/><path d="M594 833L670 888"/><path d="M594 833L557 898"/><path d="M594 833L618 912"/><path d="M639 833L673 809"/><path d="M639 833L666 853"/><path d="M639 833L637 872"/><path d="M639 833L704 862"/><path d="M639 833L670 888"/><path d="M639 833L704 827"/>
<path d="M673 809L704 827"/><path d="M673 809L666 853"/><path d="M673 809L704 862"/><path d="M673 809L736 880"/><path d="M673 809L743 839"/><path d="M704 827L743 839"/><path d="M704 827L704 862"/><path d="M704 827L736 880"/><path d="M704 827L666 853"/><path d="M704 827L776 868"/><path d="M743 839L736 880"/><path d="M743 839L704 862"/><path d="M743 839L776 868"/><path d="M743 839L766 807"/><path d="M766 807L776 868"/><path d="M766 807L736 880"/><path d="M766 807L704 862"/>
<path d="M666 853L704 862"/><path d="M666 853L637 872"/><path d="M666 853L670 888"/><path d="M666 853L736 880"/><path d="M666 853L692 918"/><path d="M666 853L730 915"/><path d="M704 862L736 880"/><path d="M704 862L670 888"/><path d="M704 862L730 915"/><path d="M704 862L692 918"/><path d="M704 862L776 868"/><path d="M704 862L774 913"/><path d="M704 862L730 970"/><path d="M776 868L736 880"/><path d="M776 868L774 913"/><path d="M776 868L730 915"/><path d="M776 868L770 955"/>
<path d="M736 880L730 915"/><path d="M736 880L774 913"/><path d="M736 880L692 918"/><path d="M736 880L670 888"/><path d="M736 880L770 955"/><path d="M736 880L682 952"/><path d="M736 880L780 1009"/><path d="M736 880L745 1009"/><path d="M637 872L586 883"/><path d="M637 872L670 888"/><path d="M637 872L618 912"/><path d="M637 872L692 918"/><path d="M637 872L653 931"/><path d="M637 872L557 898"/><path d="M637 872L682 952"/><path d="M586 883L557 898"/><path d="M586 883L618 912"/><path d="M586 883L561 933"/><path d="M586 883L510 879"/><path d="M586 883L653 931"/><path d="M586 883L597 953"/>
<path d="M670 888L618 912"/><path d="M670 888L692 918"/><path d="M670 888L730 915"/><path d="M670 888L653 931"/><path d="M670 888L682 952"/><path d="M670 888L730 970"/><path d="M670 888L694 986"/><path d="M557 898L618 912"/><path d="M557 898L561 933"/><path d="M618 912L692 918"/><path d="M618 912L561 933"/><path d="M618 912L653 931"/><path d="M618 912L597 953"/><path d="M618 912L682 952"/><path d="M692 918L730 915"/><path d="M692 918L653 931"/><path d="M692 918L682 952"/><path d="M692 918L730 970"/><path d="M692 918L694 986"/><path d="M692 918L644 973"/><path d="M692 918L770 955"/>
<path d="M730 915L774 913"/><path d="M730 915L682 952"/><path d="M730 915L730 970"/><path d="M730 915L770 955"/><path d="M730 915L694 986"/><path d="M730 915L812 972"/><path d="M730 915L653 931"/><path d="M774 913L770 955"/><path d="M774 913L730 970"/><path d="M774 913L812 972"/><path d="M774 913L780 1009"/><path d="M561 933L653 931"/><path d="M561 933L597 953"/><path d="M653 931L597 953"/><path d="M653 931L682 952"/><path d="M653 931L644 973"/><path d="M653 931L694 986"/><path d="M653 931L730 970"/><path d="M597 953L682 952"/><path d="M597 953L644 973"/><path d="M597 953L596 995"/><path d="M597 953L655 1012"/><path d="M597 953L694 986"/>
<path d="M682 952L644 973"/><path d="M682 952L730 970"/><path d="M682 952L694 986"/><path d="M682 952L770 955"/><path d="M682 952L690 1031"/><path d="M682 952L596 995"/><path d="M682 952L599 1032"/><path d="M770 955L730 970"/><path d="M770 955L812 972"/><path d="M770 955L780 1009"/><path d="M770 955L745 1009"/><path d="M770 955L690 1031"/><path d="M644 973L694 986"/><path d="M644 973L655 1012"/><path d="M644 973L690 1031"/><path d="M644 973L745 1009"/><path d="M730 970L694 986"/><path d="M730 970L745 1009"/><path d="M730 970L780 1009"/><path d="M730 970L690 1031"/><path d="M730 970L655 1012"/><path d="M730 970L599 1032"/><path d="M694 986L655 1012"/><path d="M694 986L690 1031"/><path d="M694 986L745 1009"/><path d="M694 986L596 995"/><path d="M745 1009L780 1009"/><path d="M745 1009L690 1031"/><path d="M745 1009L655 1012"/><path d="M780 1009L812 972"/><path d="M780 1009L690 1031"/>
<path d="M510 879L557 898"/><path d="M510 879L618 912"/><path d="M510 879L561 933"/><path d="M510 879L594 833"/><path d="M510 879L637 872"/><path d="M510 879L670 888"/><path d="M396 878L510 879"/><path d="M396 878L586 883"/><path d="M396 878L618 912"/><path d="M396 878L594 833"/><path d="M527 793L594 833"/><path d="M527 793L639 833"/><path d="M507 754L638 792"/><path d="M507 754L594 833"/><path d="M507 754L637 872"/>
</g>
<g class="en">
<path d="M292 705L415 690"/><path d="M292 705L327 747"/><path d="M292 705L423 769"/><path d="M415 690L327 747"/><path d="M415 690L457 756"/><path d="M327 747L423 769"/><path d="M327 747L457 756"/><path d="M507 754L457 794"/><path d="M457 794L510 879"/><path d="M457 794L396 878"/><path d="M450 848L527 793"/>
<path d="M277 876L457 794"/><path d="M277 876L527 793"/><path d="M277 876L507 754"/><path d="M277 876L498 825"/><path d="M277 876L673 809"/><path d="M277 876L639 833"/><path d="M277 876L594 833"/><path d="M277 876L556 819"/><path d="M277 876L557 898"/><path d="M277 876L428 901"/><path d="M277 876L460 916"/>
<path d="M306 924L428 901"/><path d="M306 924L460 916"/><path d="M306 924L465 952"/><path d="M306 924L494 972"/><path d="M306 924L533 956"/><path d="M306 924L502 938"/><path d="M306 924L529 915"/><path d="M306 924L561 933"/><path d="M306 924L597 953"/>
<path d="M354 958L351 1026"/><path d="M354 958L409 1052"/><path d="M354 958L494 972"/><path d="M409 970L351 1026"/><path d="M409 970L409 1052"/><path d="M409 970L494 972"/><path d="M351 1026L494 972"/><path d="M409 1052L457 1013"/><path d="M457 1013L494 972"/><path d="M457 1013L480 1042"/><path d="M480 1042L470 1090"/><path d="M480 1042L515 1026"/><path d="M470 1090L515 1026"/><path d="M470 1090L596 995"/><path d="M470 1090L655 1012"/><path d="M465 952L494 972"/><path d="M533 956L494 972"/><path d="M533 956L465 952"/><path d="M502 938L494 972"/><path d="M480 1042L557 986"/>
<path d="M673 721L745 719"/><path d="M673 721L599 743"/><path d="M673 721L752 755"/><path d="M673 721L647 754"/><path d="M673 721L694 763"/><path d="M745 719L752 755"/><path d="M599 743L647 754"/><path d="M599 743L694 763"/><path d="M556 737L599 743"/><path d="M752 755L673 809"/><path d="M752 755L743 839"/><path d="M752 755L704 862"/><path d="M752 755L704 827"/><path d="M752 755L736 880"/><path d="M752 755L766 807"/>
<path d="M926 737L770 955"/><path d="M766 807L810 806"/><path d="M876 800L815 871"/><path d="M876 800L867 902"/><path d="M810 806L776 868"/><path d="M810 806L743 839"/>
<path d="M556 1027L596 995"/><path d="M556 1027L557 986"/><path d="M599 1032L596 995"/><path d="M867 902L834 940"/><path d="M867 902L815 871"/><path d="M834 940L774 913"/><path d="M834 940L852 992"/><path d="M834 940L780 1009"/><path d="M834 940L776 868"/>
<path d="M599 780L594 833"/><path d="M599 780L647 754"/><path d="M599 780L694 763"/><path d="M599 780L527 793"/><path d="M638 792L647 754"/><path d="M638 792L594 833"/><path d="M638 792L637 872"/><path d="M647 754L694 763"/><path d="M647 754L639 833"/><path d="M694 763L718 791"/><path d="M694 763L743 839"/><path d="M556 819L639 833"/><path d="M556 819L637 872"/><path d="M556 819L527 793"/><path d="M594 833L561 933"/><path d="M776 868L815 871"/><path d="M586 883L670 888"/><path d="M557 898L502 938"/><path d="M561 933L502 938"/>
<path d="M510 879L529 915"/><path d="M396 878L557 898"/><path d="M527 793L637 872"/><path d="M527 793L586 883"/><path d="M507 754L599 780"/><path d="M507 754L639 833"/><path d="M507 754L666 853"/><path d="M507 754L647 754"/><path d="M457 794L599 780"/><path d="M457 794L594 833"/><path d="M457 794L586 883"/><path d="M457 794L527 793"/>
<path d="M460 916L502 938"/><path d="M460 916L561 933"/><path d="M460 916L618 912"/><path d="M529 915L502 938"/><path d="M502 938L561 933"/><path d="M533 956L561 933"/><path d="M494 972L597 953"/>
</g>
<g class="et">
<path d="M507 754L498 825"/><path d="M428 901L460 916"/><path d="M354 958L409 970"/><path d="M465 952L511 1098"/><path d="M515 1026L511 1098"/><path d="M460 916L494 972"/><path d="M460 916L515 1026"/><path d="M511 1098L596 995"/><path d="M457 1013L533 956"/>
<path d="M920 964L903 1011"/><path d="M930 912L834 940"/><path d="M920 964L834 940"/><path d="M903 1011L834 940"/><path d="M876 800L810 806"/><path d="M876 800L736 880"/><path d="M876 800L743 839"/><path d="M810 806L704 862"/><path d="M810 806L704 827"/>
<path d="M824 1058L599 1032"/><path d="M824 1058L596 995"/><path d="M599 1032L690 1031"/><path d="M599 1032L655 1012"/>
<path d="M599 780L556 819"/><path d="M599 780L498 825"/><path d="M556 819L594 833"/><path d="M556 819L498 825"/><path d="M556 819L586 883"/><path d="M556 819L557 898"/><path d="M557 898L529 915"/><path d="M561 933L557 986"/><path d="M597 953L557 986"/><path d="M597 953L533 956"/><path d="M644 973L596 995"/><path d="M596 995L655 1012"/><path d="M596 995L557 986"/><path d="M557 986L533 956"/>
<path d="M498 825L594 833"/><path d="M498 825L586 883"/><path d="M498 825L637 872"/><path d="M498 825L639 833"/><path d="M460 916L529 915"/><path d="M529 915L561 933"/><path d="M529 915L618 912"/><path d="M502 938L597 953"/><path d="M502 938L533 956"/><path d="M533 956L596 995"/>
</g>
<g class="eg">
<path d="M292 705L457 756"/><path d="M415 690L423 769"/><path d="M375 811L457 794"/><path d="M375 811L527 793"/><path d="M507 754L510 879"/><path d="M450 848L498 825"/><path d="M457 1013L470 1090"/><path d="M515 1026L557 986"/>
<path d="M930 912L920 964"/><path d="M578 690L642 675"/><path d="M578 690L638 792"/><path d="M642 675L694 763"/><path d="M556 737L666 853"/><path d="M599 743L638 792"/><path d="M556 1027L599 1032"/><path d="M599 780L586 883"/><path d="M557 986L655 1012"/>
</g>
<g class="ey">
<path d="M466 718L514 707"/><path d="M466 718L507 754"/><path d="M362 777L457 794"/><path d="M362 777L323 817"/><path d="M375 811L277 876"/><path d="M457 756L527 793"/><path d="M450 848L396 878"/><path d="M306 924L396 878"/><path d="M428 901L586 883"/>
<path d="M627 705L647 754"/><path d="M716 683L718 791"/><path d="M793 735L766 807"/><path d="M793 735L780 1009"/><path d="M926 737L876 800"/><path d="M926 737L743 839"/><path d="M876 800L776 868"/>
<path d="M774 1090L770 955"/><path d="M707 1093L736 880"/><path d="M707 1093L704 862"/><path d="M554 1074L596 995"/><path d="M554 1074L655 1012"/><path d="M736 880L730 970"/><path d="M586 883L704 862"/>
</g>
</g>

<g id="B" class="nodes">
<g id="b984" class="r"><circle cx="292" cy="705" r="13.5"/><text x="292" y="709">984</text></g>
<g id="b979" class="k"><circle cx="415" cy="690" r="13.5"/><text x="415" y="694">979</text></g>
<g id="b1201" class="k"><circle cx="327" cy="747" r="13.5"/><text x="327" y="751">1201</text></g>
<g id="b981" class="k"><circle cx="457" cy="756" r="13.5"/><text x="457" y="760">981</text></g>
<g id="b1202" class="k"><circle cx="423" cy="769" r="13.5"/><text x="423" y="773">1202</text></g>
<g id="b960" class="g s0"><circle cx="466" cy="718" r="15.5"/><text x="466" y="722">960</text></g>
<g id="b958" class="g s0"><circle cx="514" cy="707" r="15.5"/><text x="514" y="711">958</text></g>
<g id="b756" class="k"><circle cx="507" cy="754" r="13.5"/><text x="507" y="758">756</text></g>
<g id="b959" class="g s0"><circle cx="362" cy="777" r="15.5"/><text x="362" y="781">959</text></g>
<g id="b961" class="g"><circle cx="457" cy="794" r="13.5"/><text x="457" y="798">961</text></g>
<g id="b281" class="k"><circle cx="527" cy="793" r="13.5"/><text x="527" y="797">281</text></g>
<g id="b957" class="m s0"><circle cx="323" cy="817" r="15.5"/><text x="323" y="821">957</text></g>
<g id="b186" class="g"><circle cx="375" cy="811" r="13.5"/><text x="375" y="815">186</text></g>
<g id="b244" class="m"><circle cx="498" cy="825" r="13.5"/><text x="498" y="829">244</text></g>
<g id="b1461" class="g s0"><circle cx="450" cy="848" r="15.5"/><text x="450" y="852">1461</text></g>
<g id="b402" class="r"><circle cx="277" cy="876" r="13.5"/><text x="277" y="880">402</text></g>
<g id="b425" class="g"><circle cx="396" cy="878" r="13.5"/><text x="396" y="882">425</text></g>
<g id="b758" class="k"><circle cx="510" cy="879" r="13.5"/><text x="510" y="883">758</text></g>
<g id="b697" class="m s0"><circle cx="428" cy="901" r="15.5"/><text x="428" y="905">697</text></g>
<g id="b1254" class="r"><circle cx="306" cy="924" r="13.5"/><text x="306" y="928">1254</text></g>
<g id="b1509" class="m"><circle cx="460" cy="916" r="13.5"/><text x="460" y="920">1509</text></g>
<g id="b667" class="m"><circle cx="529" cy="915" r="13.5"/><text x="529" y="919">667</text></g>
<g id="b1529" class="m"><circle cx="502" cy="938" r="13.5"/><text x="502" y="942">1529</text></g>
<g id="b1020" class="k"><circle cx="465" cy="952" r="13.5"/><text x="465" y="956">1020</text></g>
<g id="b1253" class="k"><circle cx="533" cy="956" r="13.5"/><text x="533" y="960">1253</text></g>
<g id="b1508" class="m"><circle cx="494" cy="972" r="13.5"/><text x="494" y="976">1508</text></g>
<g id="b1393" class="k"><circle cx="354" cy="958" r="13.5"/><text x="354" y="962">1393</text></g>
<g id="b1394" class="k"><circle cx="409" cy="970" r="13.5"/><text x="409" y="974">1394</text></g>
<g id="b1392" class="k"><circle cx="351" cy="1026" r="13.5"/><text x="351" y="1030">1392</text></g>
<g id="b1391" class="m"><circle cx="409" cy="1052" r="13.5"/><text x="409" y="1056">1391</text></g>
<g id="b1543" class="m"><circle cx="457" cy="1013" r="13.5"/><text x="457" y="1017">1543</text></g>
<g id="b1214" class="k"><circle cx="515" cy="1026" r="13.5"/><text x="515" y="1030">1214</text></g>
<g id="b1544" class="m"><circle cx="480" cy="1042" r="13.5"/><text x="480" y="1046">1544</text></g>
<g id="b1542" class="m"><circle cx="470" cy="1090" r="13.5"/><text x="470" y="1094">1542</text></g>
<g id="b716" class="k"><circle cx="511" cy="1098" r="13.5"/><text x="511" y="1102">716</text></g>
<g id="b1785" class="m"><circle cx="578" cy="690" r="13.5"/><text x="578" y="694">1785</text></g>
<g id="b1619" class="m"><circle cx="642" cy="675" r="13.5"/><text x="642" y="679">1619</text></g>
<g id="b461" class="m s0"><circle cx="716" cy="683" r="15.5"/><text x="716" y="687">461</text></g>
<g id="b192" class="g s0"><circle cx="627" cy="705" r="15.5"/><text x="627" y="709">192</text></g>
<g id="b1571" class="k"><circle cx="673" cy="721" r="13.5"/><text x="673" y="725">1571</text></g>
<g id="b1572" class="k"><circle cx="745" cy="719" r="13.5"/><text x="745" y="723">1572</text></g>
<g id="b1614" class="g s0"><circle cx="793" cy="735" r="15.5"/><text x="793" y="739">1614</text></g>
<g id="b1502" class="m"><circle cx="556" cy="737" r="13.5"/><text x="556" y="741">1502</text></g>
<g id="b1644" class="k"><circle cx="599" cy="743" r="13.5"/><text x="599" y="747">1644</text></g>
<g id="b280" class="k"><circle cx="647" cy="754" r="13.5"/><text x="647" y="758">280</text></g>
<g id="b277" class="k"><circle cx="694" cy="763" r="13.5"/><text x="694" y="767">277</text></g>
<g id="b1569" class="k"><circle cx="752" cy="755" r="13.5"/><text x="752" y="759">1569</text></g>
<g id="b728" class="r"><circle cx="926" cy="737" r="13.5"/><text x="926" y="741">728</text></g>
<g id="b757" class="k"><circle cx="599" cy="780" r="13.5"/><text x="599" y="784">757</text></g>
<g id="b227" class="m"><circle cx="638" cy="792" r="13.5"/><text x="638" y="796">227</text></g>
<g id="b9" class="m"><circle cx="718" cy="791" r="13.5"/><text x="718" y="795">9</text></g>
<g id="b980" class="m"><circle cx="556" cy="819" r="13.5"/><text x="556" y="823">980</text></g>
<g id="b12" class="m"><circle cx="594" cy="833" r="13.5"/><text x="594" y="837">12</text></g>
<g id="b877" class="m"><circle cx="639" cy="833" r="13.5"/><text x="639" y="837">877</text></g>
<g id="b1009" class="m"><circle cx="673" cy="809" r="13.5"/><text x="673" y="813">1009</text></g>
<g id="b1103" class="m"><circle cx="704" cy="827" r="13.5"/><text x="704" y="831">1103</text></g>
<g id="b79" class="m"><circle cx="743" cy="839" r="13.5"/><text x="743" y="843">79</text></g>
<g id="b1756" class="k"><circle cx="766" cy="807" r="13.5"/><text x="766" y="811">1756</text></g>
<g id="b584" class="m"><circle cx="810" cy="806" r="13.5"/><text x="810" y="810">584</text></g>
<g id="b593" class="m"><circle cx="876" cy="800" r="13.5"/><text x="876" y="804">593</text></g>
<g id="b279" class="m"><circle cx="666" cy="853" r="13.5"/><text x="666" y="857">279</text></g>
<g id="b245" class="m"><circle cx="704" cy="862" r="13.5"/><text x="704" y="866">245</text></g>
<g id="b1574" class="m"><circle cx="776" cy="868" r="13.5"/><text x="776" y="872">1574</text></g>
<g id="b1758" class="k"><circle cx="815" cy="871" r="13.5"/><text x="815" y="875">1758</text></g>
<g id="b18" class="m"><circle cx="736" cy="880" r="13.5"/><text x="736" y="884">18</text></g>
<g id="b167" class="m"><circle cx="637" cy="872" r="13.5"/><text x="637" y="876">167</text></g>
<g id="b723" class="k"><circle cx="586" cy="883" r="13.5"/><text x="586" y="887">723</text></g>
<g id="b1181" class="m"><circle cx="670" cy="888" r="13.5"/><text x="670" y="892">1181</text></g>
<g id="b1252" class="m"><circle cx="557" cy="898" r="13.5"/><text x="557" y="902">1252</text></g>
<g id="b1387" class="k"><circle cx="867" cy="902" r="13.5"/><text x="867" y="906">1387</text></g>
<g id="b286" class="g"><circle cx="930" cy="912" r="13.5"/><text x="930" y="916">286</text></g>
<g id="b305" class="m"><circle cx="618" cy="912" r="13.5"/><text x="618" y="916">305</text></g>
<g id="b479" class="m"><circle cx="692" cy="918" r="13.5"/><text x="692" y="922">479</text></g>
<g id="b468" class="m"><circle cx="730" cy="915" r="13.5"/><text x="730" y="919">468</text></g>
<g id="b619" class="m"><circle cx="774" cy="913" r="13.5"/><text x="774" y="917">619</text></g>
<g id="b718" class="m"><circle cx="561" cy="933" r="13.5"/><text x="561" y="937">718</text></g>
<g id="b964" class="m"><circle cx="653" cy="931" r="13.5"/><text x="653" y="935">964</text></g>
<g id="b26" class="m"><circle cx="834" cy="940" r="13.5"/><text x="834" y="944">26</text></g>
<g id="b715" class="m"><circle cx="597" cy="953" r="13.5"/><text x="597" y="957">715</text></g>
<g id="b804" class="m"><circle cx="682" cy="952" r="13.5"/><text x="682" y="956">804</text></g>
<g id="b849" class="m"><circle cx="770" cy="955" r="13.5"/><text x="770" y="959">849</text></g>
<g id="b1687" class="g"><circle cx="920" cy="964" r="13.5"/><text x="920" y="968">1687</text></g>
<g id="b1064" class="m"><circle cx="644" cy="973" r="13.5"/><text x="644" y="977">1064</text></g>
<g id="b1134" class="m"><circle cx="730" cy="970" r="13.5"/><text x="730" y="974">1134</text></g>
<g id="b1045" class="k"><circle cx="812" cy="972" r="13.5"/><text x="812" y="976">1045</text></g>
<g id="b742" class="m"><circle cx="852" cy="992" r="13.5"/><text x="852" y="996">742</text></g>
<g id="b228" class="m"><circle cx="557" cy="986" r="13.5"/><text x="557" y="990">228</text></g>
<g id="b720" class="k"><circle cx="596" cy="995" r="13.5"/><text x="596" y="999">720</text></g>
<g id="b25" class="m"><circle cx="694" cy="986" r="13.5"/><text x="694" y="990">25</text></g>
<g id="b1083" class="k"><circle cx="745" cy="1009" r="13.5"/><text x="745" y="1013">1083</text></g>
<g id="b1028" class="m"><circle cx="780" cy="1009" r="13.5"/><text x="780" y="1013">1028</text></g>
<g id="b1613" class="g"><circle cx="903" cy="1011" r="13.5"/><text x="903" y="1015">1613</text></g>
<g id="b721" class="k"><circle cx="655" cy="1012" r="13.5"/><text x="655" y="1016">721</text></g>
<g id="b598" class="m"><circle cx="556" cy="1027" r="13.5"/><text x="556" y="1031">598</text></g>
<g id="b36" class="m"><circle cx="599" cy="1032" r="13.5"/><text x="599" y="1036">36</text></g>
<g id="b1617" class="m"><circle cx="690" cy="1031" r="13.5"/><text x="690" y="1035">1617</text></g>
<g id="b654" class="m"><circle cx="824" cy="1058" r="13.5"/><text x="824" y="1062">654</text></g>
<g id="b752" class="g s0"><circle cx="554" cy="1074" r="15.5"/><text x="554" y="1078">752</text></g>
<g id="b232" class="m"><circle cx="603" cy="1082" r="13.5"/><text x="603" y="1086">232</text></g>
<g id="b790" class="m"><circle cx="652" cy="1082" r="13.5"/><text x="652" y="1086">790</text></g>
<g id="b1386" class="m"><circle cx="707" cy="1093" r="13.5"/><text x="707" y="1097">1386</text></g>
<g id="b1688" class="r"><circle cx="774" cy="1090" r="13.5"/><text x="774" y="1094">1688</text></g>
</g>

<g id="annotB">
<path class="arr" d="M291 689L291 657"/>
<path class="arr" d="M926 721L926 690"/>
<path class="arr" d="M259 876L229 876"/>
<path class="arr" d="M290 921L226 921"/>
<path class="arr" d="M774 1106L774 1129"/>
<text class="ann" x="172" y="653" textLength="330" lengthAdjust="spacing">Impairment, T-cell dependent antibody response</text>
<text class="ann" x="838" y="680" textLength="202" lengthAdjust="spacing">Increase, Aneuploid offspring</text>
<text class="ann" x="13" y="880" textLength="208" lengthAdjust="spacing">Cognitive Function, Decreased</text>
<text class="ann" x="103" y="922" textLength="114" lengthAdjust="spacing">Infant leukaemia</text>
<text class="ann" x="658" y="1137" textLength="245" lengthAdjust="spacing">Decrease, male anogenital distance</text>
</g>

<g id="legendB">
<rect x="152.5" y="1150.5" width="921" height="99" fill="#fff" stroke="#9a9a9a" stroke-width="1.5"/>
<text class="lt" x="186" y="1173" textLength="80" lengthAdjust="spacingAndGlyphs">Event type</text>
<circle class="dot" cx="191" cy="1197" r="5" fill="#b066f2"/>
<text class="li" x="203" y="1204" textLength="154" lengthAdjust="spacingAndGlyphs">Molecular Initiating Event</text>
<circle class="dot" cx="190" cy="1223" r="5" fill="#a8c538"/>
<text class="li" x="199" y="1231" textLength="63" lengthAdjust="spacingAndGlyphs">Key Event</text>
<circle class="dot" cx="396" cy="1198" r="5" fill="#68c346"/>
<text class="li" x="411" y="1205" textLength="127" lengthAdjust="spacingAndGlyphs">Key Event from KER</text>
<circle class="dot" cx="396" cy="1224" r="5" fill="#e06666"/>
<text class="li" x="411" y="1231" textLength="110" lengthAdjust="spacingAndGlyphs">Adverse Outcome</text>
<text class="lt" x="583" y="1178" textLength="209" lengthAdjust="spacingAndGlyphs">Loss of coverage for nodes</text>
<polygon points="586,1201 778,1190 778,1201" fill="url(#wedge)"/>
<polygon class="tick" points="594.5,1215 596,1205 597.5,1215"/>
<polygon class="tick" points="631.5,1215 633,1205 634.5,1215"/>
<polygon class="tick" points="709.5,1215 711,1205 712.5,1215"/>
<polygon class="tick" points="774.5,1215 776,1205 777.5,1215"/>
<text class="lt" x="833" y="1178" textLength="211" lengthAdjust="spacingAndGlyphs">Loss of coverage for edges</text>
<rect x="840" y="1191" width="193" height="16" fill="url(#vir)" stroke="#999" stroke-width="0.8"/>
<polygon class="tick" points="843.5,1218 845,1208 846.5,1218"/>
<polygon class="tick" points="926.5,1218 928,1208 929.5,1218"/>
<polygon class="tick" points="967.5,1218 969,1208 970.5,1218"/>
<polygon class="tick" points="990.5,1218 992,1208 993.5,1218"/>
<polygon class="tick" points="1028.5,1218 1030,1208 1031.5,1218"/>
<g style="font-size:13px" text-anchor="middle">
<text x="597" y="1234">0.00</text><text x="634" y="1234">0.33</text><text x="712" y="1234">0.69</text><text x="773" y="1234">0.82</text>
<text x="847" y="1234">0.00</text><text x="925" y="1237">0.33</text><text x="967" y="1234">0.47</text><text x="995" y="1234">0.73</text><text x="1025" y="1236">0.82</text>
</g>
</g>
</svg>
